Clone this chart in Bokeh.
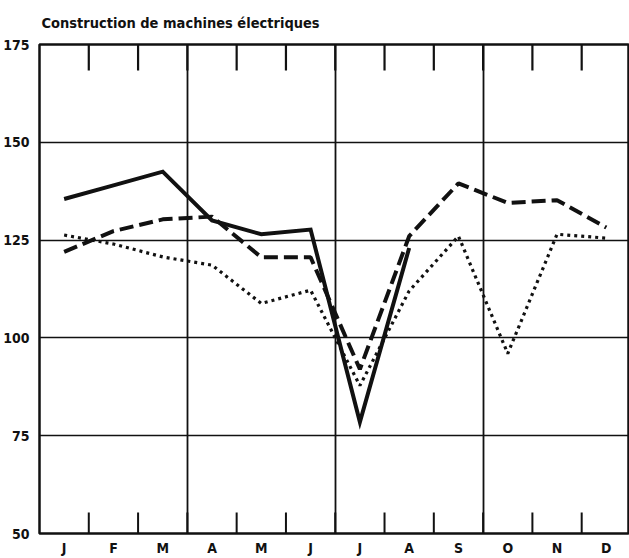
import math
from bokeh.plotting import figure
from bokeh.models import FixedTicker, Range1d
from bokeh.embed import file_html
from bokeh.resources import INLINE

# ---- data ----
months = ["J", "F", "M", "A", "M", "J", "J", "A", "S", "O", "N", "D"]
series_solid = [135.5, 139.0, 142.5, 130.0, 126.5, 127.7, 78.5, 123.0]
series_dashed = [122.0, 127.3, 130.3, 131.0, 120.6, 120.6, 92.0, 126.0, 139.5, 134.5, 135.2, 128.2]
series_dotted = [126.3, 124.0, 120.7, 118.6, 108.8, 112.2, 87.8, 112.0, 126.0, 96.0, 126.5, 125.5]
y_ticks = [50, 75, 100, 125, 150, 175]
y_grid = [75, 100, 125, 150]
quarter_lines = [3, 6, 9]
title_text = "Construction de machines électriques"

centers = [i + 0.5 for i in range(len(months))]
boundaries = [i for i in range(1, len(months))]

FONT = "'Liberation Sans Narrow', 'DejaVu Sans Condensed', 'Arial Narrow', sans-serif"
INK = "#111111"

Y0, Y1 = 50, 175

p = figure(width=629, height=558, output_backend="svg", toolbar_location=None,
           x_range=Range1d(0, 11.97), y_range=Range1d(Y0, Y1),
           min_border_left=39, min_border_right=0, min_border_top=44, min_border_bottom=25,
           background_fill_color="white", border_fill_color="white")

p.outline_line_color = INK
p.outline_line_width = 2.5

# title
p.title.text = title_text
p.title.align = "left"
p.title.vertical_align = "top"
p.title.offset = 2
p.title.text_font = FONT
p.title.text_font_size = "14.5px"
p.title.text_font_style = "bold"
p.title.text_color = INK
p.title.standoff = 24

# grid
p.ygrid.ticker = FixedTicker(ticks=y_grid)
p.ygrid.grid_line_color = INK
p.ygrid.grid_line_width = 1.6
p.xgrid.ticker = FixedTicker(ticks=quarter_lines)
p.xgrid.grid_line_color = INK
p.xgrid.grid_line_width = 1.8

# left axis
ya = p.yaxis[0]
ya.ticker = FixedTicker(ticks=y_ticks)
ya.major_tick_in = 0
ya.major_tick_out = 0
ya.minor_tick_line_color = None
ya.axis_line_color = None
ya.major_label_standoff = 10
ya.major_label_text_font = FONT
ya.major_label_text_font_size = "14px"
ya.major_label_text_font_style = "bold"
ya.major_label_text_color = INK

# bottom axis: month labels
xa = p.xaxis[0]
xa.ticker = FixedTicker(ticks=centers)
xa.major_label_overrides = {c: m for c, m in zip(centers, months)}
xa.major_tick_in = 0
xa.major_tick_out = 0
xa.minor_tick_line_color = None
xa.axis_line_color = None
xa.major_label_standoff = 6
xa.major_label_text_font = FONT
xa.major_label_text_font_size = "14px"
xa.major_label_text_font_style = "bold"
xa.major_label_text_color = INK

# month boundary tick marks (screen-length rays from the frame edges)
p.ray(x=boundaries, y=[Y1] * len(boundaries), length=26, length_units="screen",
      angle=-math.pi / 2, line_color=INK, line_width=2.2)
p.ray(x=boundaries, y=[Y0] * len(boundaries), length=21, length_units="screen",
      angle=math.pi / 2, line_color=INK, line_width=2)

# series
p.line(centers[:len(series_dotted)], series_dotted, line_color=INK, line_width=3.2,
       line_dash="3 4")
p.line(centers[:len(series_dashed)], series_dashed, line_color=INK, line_width=4,
       line_dash="14 6")
p.line(centers[:len(series_solid)], series_solid, line_color=INK, line_width=4,
       line_join="miter")

open("out.html", "w").write(file_html(p, INLINE))
